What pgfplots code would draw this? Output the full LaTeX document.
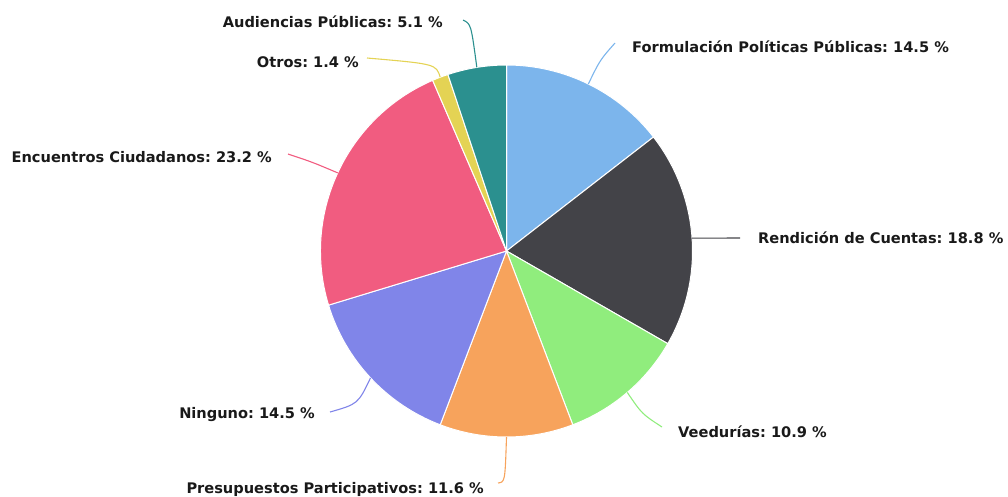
\documentclass[border=0pt]{standalone}
\usepackage{fontspec}
\setmainfont{DejaVu Sans}
\usepackage{pgfplots}
\usepackage{pgfplotstable}
\pgfplotsset{compat=1.18}
\frenchspacing
\definecolor{c1}{HTML}{7CB5EC}
\definecolor{c2}{HTML}{434348}
\definecolor{c3}{HTML}{90ED7D}
\definecolor{c4}{HTML}{F7A35C}
\definecolor{c5}{HTML}{8085E9}
\definecolor{c6}{HTML}{F15C80}
\definecolor{c7}{HTML}{E4D354}
\definecolor{c8}{HTML}{2B908F}
\pgfplotstableread[col sep=comma]{
value,col,anch,lx,ly,ex,ey,cx,cy,name
14.5,c1,base west,632,52,615,43,600,60,Formulación Políticas Públicas
18.8,c2,base west,758,243,740,238,716,238,Rendición de Cuentas
10.9,c3,base west,678,437,662,427,642,414,Veedurías
11.6,c4,base east,484,493,498,483,505,482,Presupuestos Participativos
14.5,c5,base east,315,418,330,412,358,404,Ninguno
23.2,c6,base east,272,162,288,154,312,162,Encuentros Ciudadanos
1.4,c7,base east,359,67,367,58,436,64,Otros
5.1,c8,base east,443,27,463,20,471,24,Audiencias Públicas
}\pie
\begin{document}
\frenchspacing
\begin{tikzpicture}
\begin{axis}[name=ax, width=1008pt, height=496pt, scale only axis,
  xmin=0, xmax=1008, ymin=0, ymax=496, y dir=reverse,
  enlargelimits=false, hide axis, clip=false]
\addplot[draw=none] coordinates {(0,0)};
\pgfplotsextra{
  \gdef\cum{0}
  \foreach \i in {0,...,7}{
    \pgfplotstablegetelem{\i}{value}\of\pie \let\v\pgfplotsretval
    \pgfplotstablegetelem{\i}{col}\of\pie \let\c\pgfplotsretval
    \pgfmathsetmacro\aone{90-3.6*\cum}
    \pgfmathsetmacro\atwo{90-3.6*(\cum+\v)}
    \fill[fill=\c, draw=white, line width=1pt] (axis cs:506.5,251) -- ++(\aone:186pt) arc[start angle=\aone, end angle=\atwo, radius=186pt] -- cycle;
    \pgfmathsetmacro\newcum{\cum+\v}\xdef\cum{\newcum}
  }
  \gdef\cum{0}
  \foreach \i in {0,...,7}{
    \pgfplotstablegetelem{\i}{value}\of\pie \let\v\pgfplotsretval
    \pgfplotstablegetelem{\i}{col}\of\pie \let\c\pgfplotsretval
    \pgfplotstablegetelem{\i}{anch}\of\pie \let\an\pgfplotsretval
    \pgfplotstablegetelem{\i}{lx}\of\pie \let\lx\pgfplotsretval
    \pgfplotstablegetelem{\i}{ly}\of\pie \let\ly\pgfplotsretval
    \pgfplotstablegetelem{\i}{ex}\of\pie \let\ex\pgfplotsretval
    \pgfplotstablegetelem{\i}{ey}\of\pie \let\ey\pgfplotsretval
    \pgfplotstablegetelem{\i}{cx}\of\pie \let\cx\pgfplotsretval
    \pgfplotstablegetelem{\i}{cy}\of\pie \let\cy\pgfplotsretval
    \pgfplotstablegetelem{\i}{name}\of\pie \let\nm\pgfplotsretval
    \pgfmathsetmacro\amid{90-3.6*(\cum+\v/2)}
    \pgfmathsetmacro\sx{506.5+186*cos(\amid)}
    \pgfmathsetmacro\sy{251-186*sin(\amid)}
    \draw[\c, line width=1.1pt] (axis cs:\sx,\sy) .. controls (axis cs:\cx,\cy) .. (axis cs:\ex,\ey);
    \node[anchor=\an, inner sep=0pt, text=black!90, font=\frenchspacing\bfseries\fontsize{14.6}{16}\selectfont] at (axis cs:\lx,\ly) {\nm: \v~\%};
    \pgfmathsetmacro\newcum{\cum+\v}\xdef\cum{\newcum}
  }
}
\end{axis}
\pgfresetboundingbox
\useasboundingbox (ax.south west) rectangle (ax.north east);
\end{tikzpicture}
\end{document}
